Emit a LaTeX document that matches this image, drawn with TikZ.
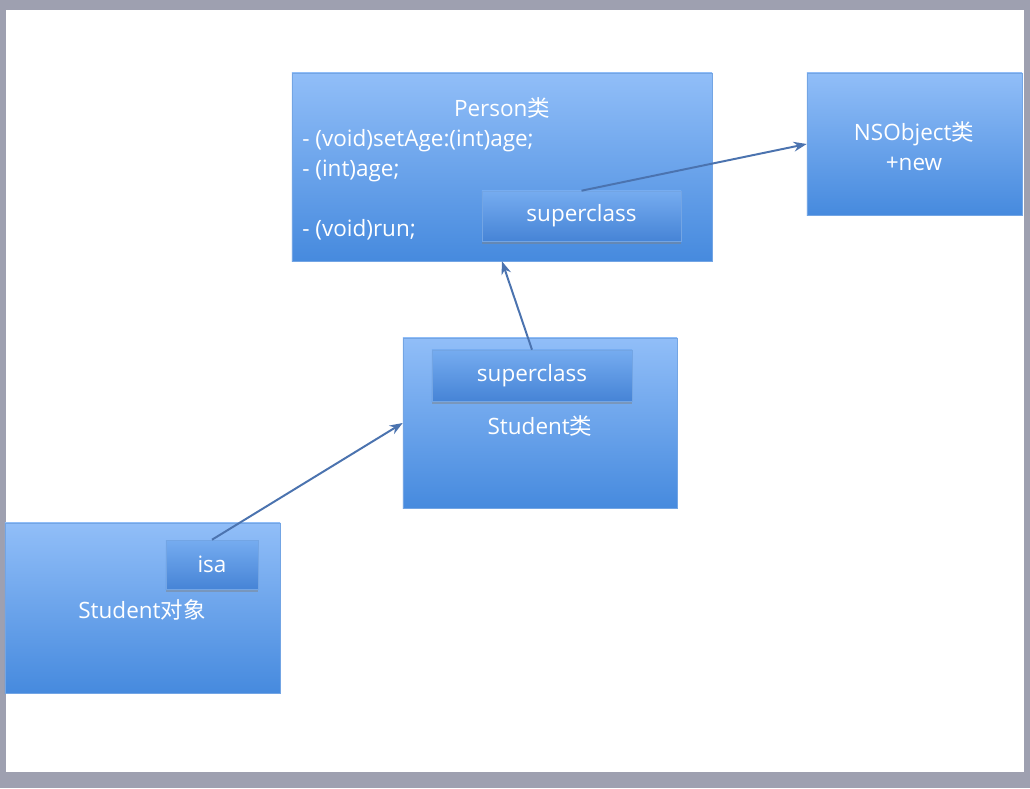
\documentclass[tikz,border=0pt]{standalone}
\usepackage{fontspec}
\setmainfont{Open Sans}
\newfontfamily\cjk{Noto Sans CJK SC}
\usetikzlibrary{arrows.meta, shadows}
\definecolor{frame}{RGB}{158,160,176}
\definecolor{boxtop}{RGB}{145,190,248}
\definecolor{boxbot}{RGB}{70,138,222}
\definecolor{slottop}{RGB}{118,172,240}
\definecolor{slotbot}{RGB}{70,132,214}
\definecolor{edge}{RGB}{115,165,228}
\definecolor{linkcol}{RGB}{75,115,175}

\begin{document}
\begin{tikzpicture}[x=0.025cm, y=-0.025cm, >=Stealth, font=\fontsize{16}{21.3}\selectfont,
    cls/.style={draw=edge, thin, top color=boxtop, bottom color=boxbot, drop shadow={opacity=0.25, shadow xshift=1pt, shadow yshift=-1pt}, inner sep=0pt},
    slot/.style={draw=edge, thin, top color=slottop, bottom color=slotbot, drop shadow={opacity=0.45, shadow xshift=0pt, shadow yshift=-2pt}, text=white, inner sep=0pt},
    txt/.style={text=white, inner sep=0pt},
    link/.style={->, draw=linkcol, line width=1.4pt}]
    % slide frame
    \fill[frame] (0,0) rectangle (1030,788);
    \fill[white] (6,10) rectangle (1024,772);
    \useasboundingbox (0,0) rectangle (1030,788);

    \node[cls, minimum width=10.5cm, minimum height=4.7cm] (person) at (502,167) {};
    \node[txt] (personT) at (502,108) {Person{\cjk 类}};
    \node[txt, align=left, anchor=west] (personM) at (302,185) {- (void)setAge:(int)age;\\- (int)age;\\[21.3pt]- (void)run;};
    \node[slot, minimum width=4.975cm, minimum height=1.25cm] (psuper) at (581.5,216) {superclass};

    \node[cls, minimum width=5.375cm, minimum height=3.55cm] (nsobj) at (914.5,144) {};
    \node[txt, align=center] (nsobjT) at (914,146) {NSObject{\cjk 类}\\+new};

    \node[cls, minimum width=6.85cm, minimum height=4.25cm] (stuclass) at (540,423) {};
    \node[slot, minimum width=5cm, minimum height=1.275cm] (ssuper) at (532,375.5) {superclass};
    \node[txt] (stuclassT) at (540,426) {Student{\cjk 类}};

    \node[cls, minimum width=6.875cm, minimum height=4.25cm] (stuobj) at (142.5,608) {};
    \node[slot, minimum width=2.3cm, minimum height=1.225cm] (isa) at (212,564.5) {isa};
    \node[txt] (stuobjT) at (142,610) {Student{\cjk 对象}};

    \draw[link] (psuper.north) -- (nsobj.west);
    \draw[link] (ssuper.north) -- (person.south);
    \draw[link] (isa.north) -- (stuclass.west);
\end{tikzpicture}
\end{document}
